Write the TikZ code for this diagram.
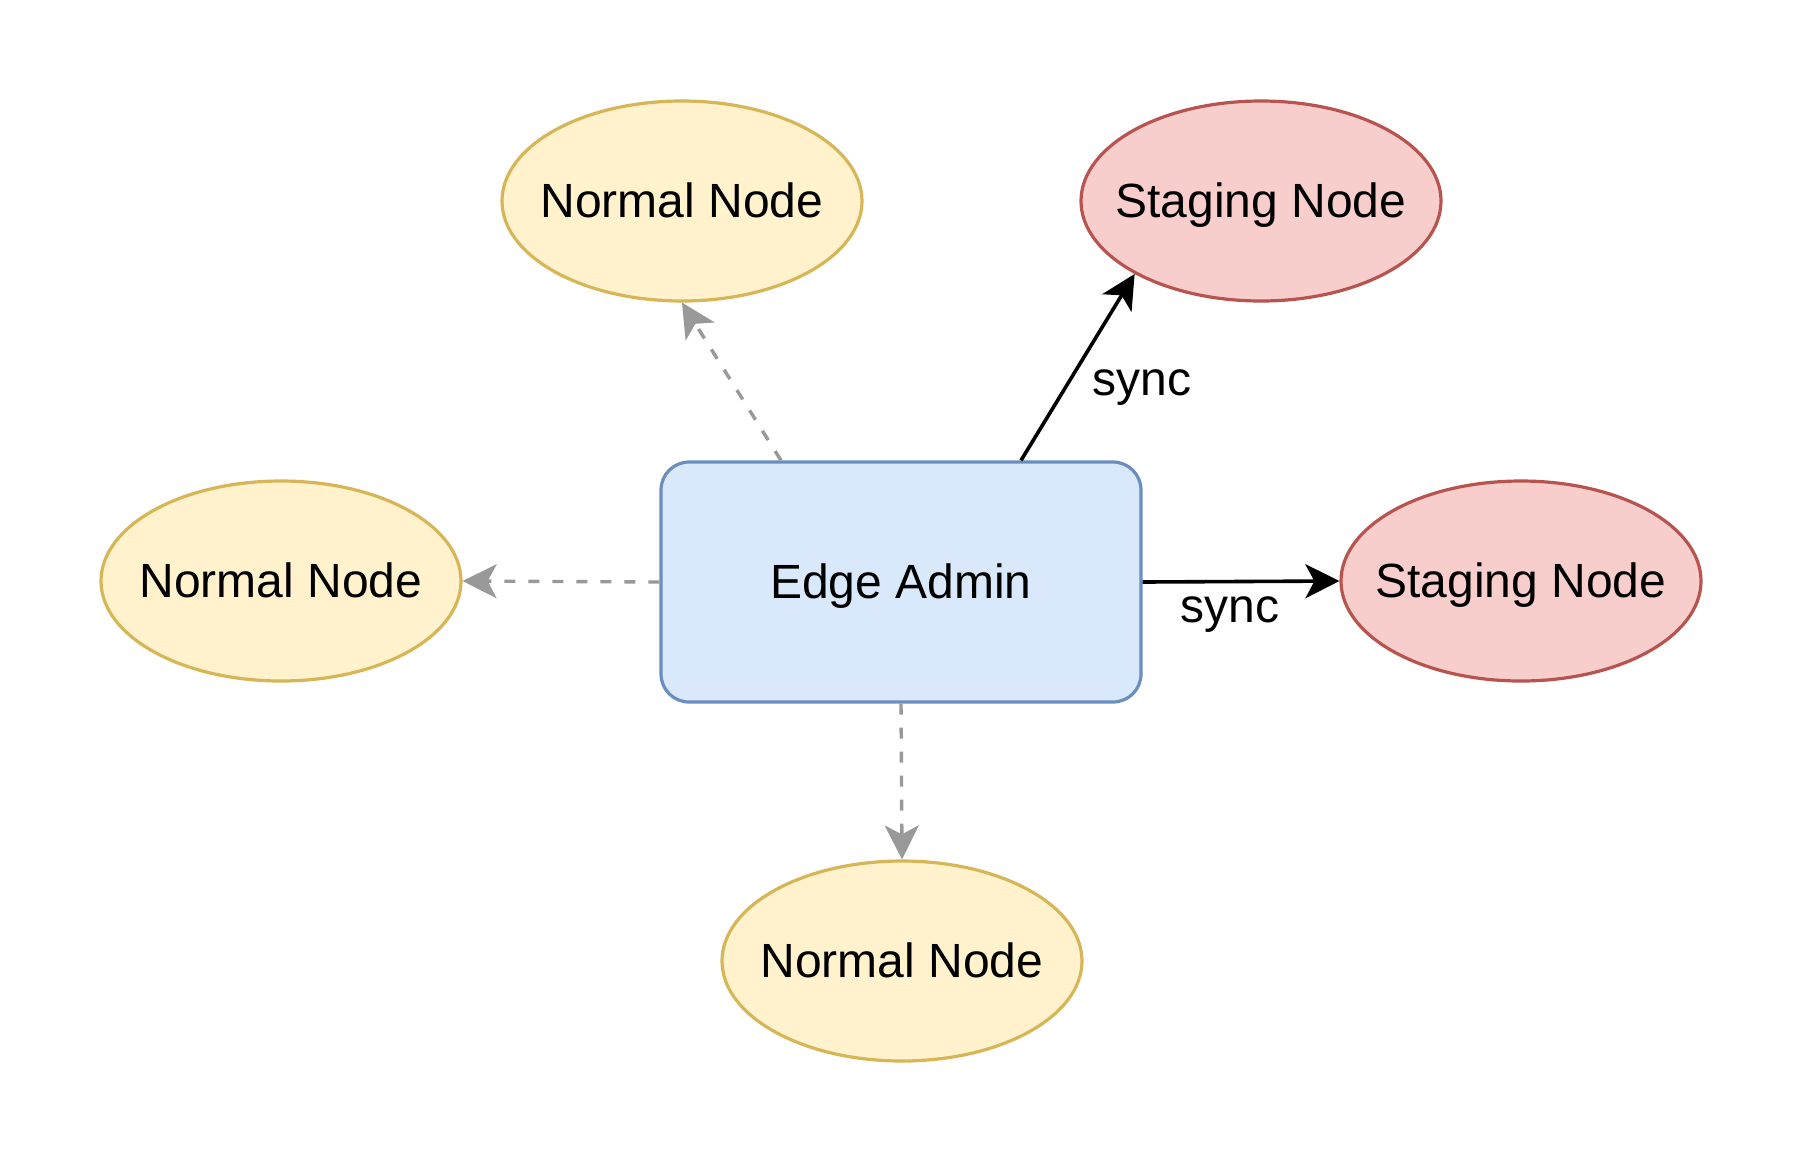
\documentclass[tikz,border=0pt]{standalone}
\usepackage{fontspec}
\setmainfont{Liberation Sans}
\usetikzlibrary{shapes.geometric,arrows.meta}
\definecolor{yfill}{HTML}{FFF2CC}
\definecolor{ystroke}{HTML}{D6B656}
\definecolor{rfill}{HTML}{F8CECC}
\definecolor{rstroke}{HTML}{B85450}
\definecolor{bfill}{HTML}{DAE8FC}
\definecolor{bstroke}{HTML}{6C8EBF}
\definecolor{arrowgray}{HTML}{999999}
\begin{document}
\begin{tikzpicture}[x=0.5pt,y=-0.5pt,
  lbl/.style={font=\fontsize{24}{29}\selectfont},
  base/.style={lbl, line width=1.6pt, inner sep=0pt, text height=19.5pt, text depth=3pt},
  normalnode/.style={base, ellipse, draw=ystroke, fill=yfill, inner xsep=-30pt, minimum width=180pt, minimum height=100pt},
  stagingnode/.style={base, ellipse, draw=rstroke, fill=rfill, inner xsep=-30pt, minimum width=180pt, minimum height=100pt},
  adminbox/.style={base, rectangle, rounded corners=14pt, draw=bstroke, fill=bfill, minimum width=240pt, minimum height=120pt},
  grayarrow/.style={draw=arrowgray, line width=1.7pt, dash pattern=on 5.5pt off 6.5pt, -{Stealth[length=17pt,width=17pt,inset=4.5pt]}},
  syncarrow/.style={draw=black, line width=1.8pt, -{Stealth[length=17pt,width=17pt,inset=4.5pt]}}
]
\path[fill=white] (0,0) rectangle (1804,1164);
\useasboundingbox (0,0) rectangle (1804,1164);

\node[adminbox] (admin) at (901,582) {Edge Admin};
\node[normalnode] (ntop) at (682,201) {Normal Node};
\node[stagingnode] (stop) at (1261,201) {Staging Node};
\node[normalnode] (nleft) at (281,581) {Normal Node};
\node[stagingnode] (sright) at (1521,581) {Staging Node};
\node[normalnode] (nbot) at (902,961) {Normal Node};

\coordinate (a1) at ([xshift=-60pt]admin.north);
\coordinate (a2) at ([xshift=60pt]admin.north);

\draw[grayarrow] (a1) -- (ntop.south);
\draw[grayarrow] (admin.west) -- (nleft.east);
\draw[grayarrow] (admin.south) -- (nbot.north);
\draw[syncarrow] (a2) -- (stop.210);
\draw[syncarrow] (admin.east) -- (sright.west);

\node[lbl, anchor=base] (sync1) at (1142,395) {sync};
\node[lbl, anchor=base] (sync2) at (1230,622) {sync};
\end{tikzpicture}
\end{document}
